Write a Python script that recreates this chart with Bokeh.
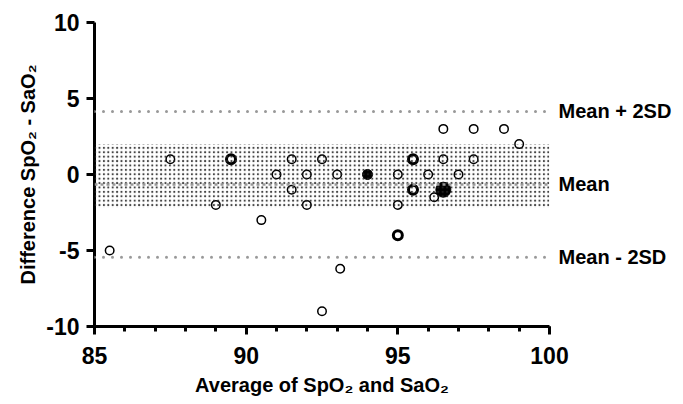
from bokeh.plotting import figure
from bokeh.models import Range1d, BoxAnnotation, Span, FixedTicker, LinearAxis
from bokeh.embed import file_html
from bokeh.resources import INLINE

# --- data ---
open_x = [85.5, 87.5, 89.0, 90.5, 91.0, 91.5, 91.5, 92.0, 92.0, 92.5, 92.5, 93.0,
          93.1, 95.0, 95.0, 96.0, 96.2, 96.5, 96.5, 97.0, 97.5, 97.5, 98.5, 99.0]
open_y = [-5, 1, -2, -3, 0, 1, -1, 0, -2, 1, -9, 0,
          -6.2, 0, -2, 0, -1.5, 3, 1, 0, 3, 1, 3, 2]
dup_x = [89.5, 95.0, 95.5, 95.5]
dup_y = [1, -4, 1, -1]
filled_x = [94.0, 96.5]
filled_y = [0, -1]
filled_n = [1, 3]

mean_diff = -0.65
upper_loa = 4.15
lower_loa = -5.45
band_top = 2.0
band_bottom = -2.2
ref_names = ["Mean + 2SD", "Mean", "Mean - 2SD"]

x_ticks = [85, 90, 95, 100]
x_tick_labels = ["85", "90", "95", "100"]
y_ticks = [-10, -5, 0, 5, 10]
y_tick_labels = ["-10", "-5", "0", "5", "10"]

FONT = "Liberation Sans"

p = figure(width=680, height=402, output_backend="svg", toolbar_location=None,
           x_range=Range1d(85, 100), y_range=Range1d(-10, 10),
           min_border_left=94, min_border_right=131, min_border_top=22,
           min_border_bottom=76)
p.outline_line_color = None
p.grid.visible = False

band = BoxAnnotation(bottom=band_bottom, top=band_top, fill_color=None,
                     line_color=None, hatch_pattern=".", hatch_color="#222222",
                     hatch_scale=4.4, hatch_weight=0.4, hatch_alpha=0.85)
p.add_layout(band)

for yv, dash, w, cap in [(upper_loa, "0 9", 3, "round"), (lower_loa, "0 9", 3, "round"),
                         (mean_diff, "3 3", 2.5, "butt")]:
    sp = Span(location=yv, dimension="width", line_color="#999999",
              line_width=w, line_dash=dash, line_cap=cap)
    p.add_layout(sp)

p.scatter(open_x, open_y, marker="circle", size=8.5, fill_color="white",
          line_color="black", line_width=1.5)
p.scatter(dup_x, dup_y, marker="circle", size=9, fill_color="white",
          line_color="black", line_width=3)
p.scatter(filled_x, filled_y, marker="circle", size=[10 + 2.5 * (n - 1) for n in filled_n],
          fill_color="black", line_color="black", line_width=1)

# right-hand reference labels via an unlined axis
ref_vals = [upper_loa, mean_diff, lower_loa]
rax = LinearAxis(ticker=FixedTicker(ticks=ref_vals, minor_ticks=[]),
                 major_label_overrides={v: t for v, t in zip(ref_vals, ref_names)},
                 axis_line_color=None, major_tick_line_color=None,
                 minor_tick_line_color=None, major_tick_out=0, major_tick_in=0,
                 minor_tick_out=0, major_label_standoff=9,
                 major_label_text_font=FONT, major_label_text_font_style="bold",
                 major_label_text_font_size="20px", major_label_text_color="black")
p.add_layout(rax, "right")

for ax in (p.xaxis[0], p.yaxis[0]):
    ax.axis_line_width = 3
    ax.axis_line_color = "black"
    ax.major_tick_line_width = 3
    ax.minor_tick_line_width = 3
    ax.major_tick_in = 0
    ax.major_tick_out = 8
    ax.minor_tick_in = 0
    ax.minor_tick_out = 5
    ax.major_label_text_font = FONT
    ax.major_label_text_font_style = "bold"
    ax.major_label_text_font_size = "23px"
    ax.major_label_text_color = "black"
    ax.axis_label_text_font = FONT
    ax.axis_label_text_font_style = "bold"
    ax.axis_label_text_font_size = "20px"
    ax.axis_label_text_color = "black"

p.xaxis[0].ticker = FixedTicker(ticks=x_ticks, minor_ticks=list(range(85, 101)))
p.yaxis[0].ticker = FixedTicker(ticks=y_ticks, minor_ticks=[])
p.xaxis[0].major_label_overrides = dict(zip(x_ticks, x_tick_labels))
p.yaxis[0].major_label_overrides = dict(zip(y_ticks, y_tick_labels))
p.xaxis[0].axis_label = "Average of SpO\u2082 and SaO\u2082"
p.yaxis[0].axis_label = "Difference SpO\u2082 - SaO\u2082"
p.xaxis[0].major_label_standoff = 12
p.yaxis[0].major_label_standoff = 7
p.xaxis[0].axis_label_standoff = 7
p.yaxis[0].axis_label_standoff = 4

open("out.html", "w").write(file_html(p, INLINE))
